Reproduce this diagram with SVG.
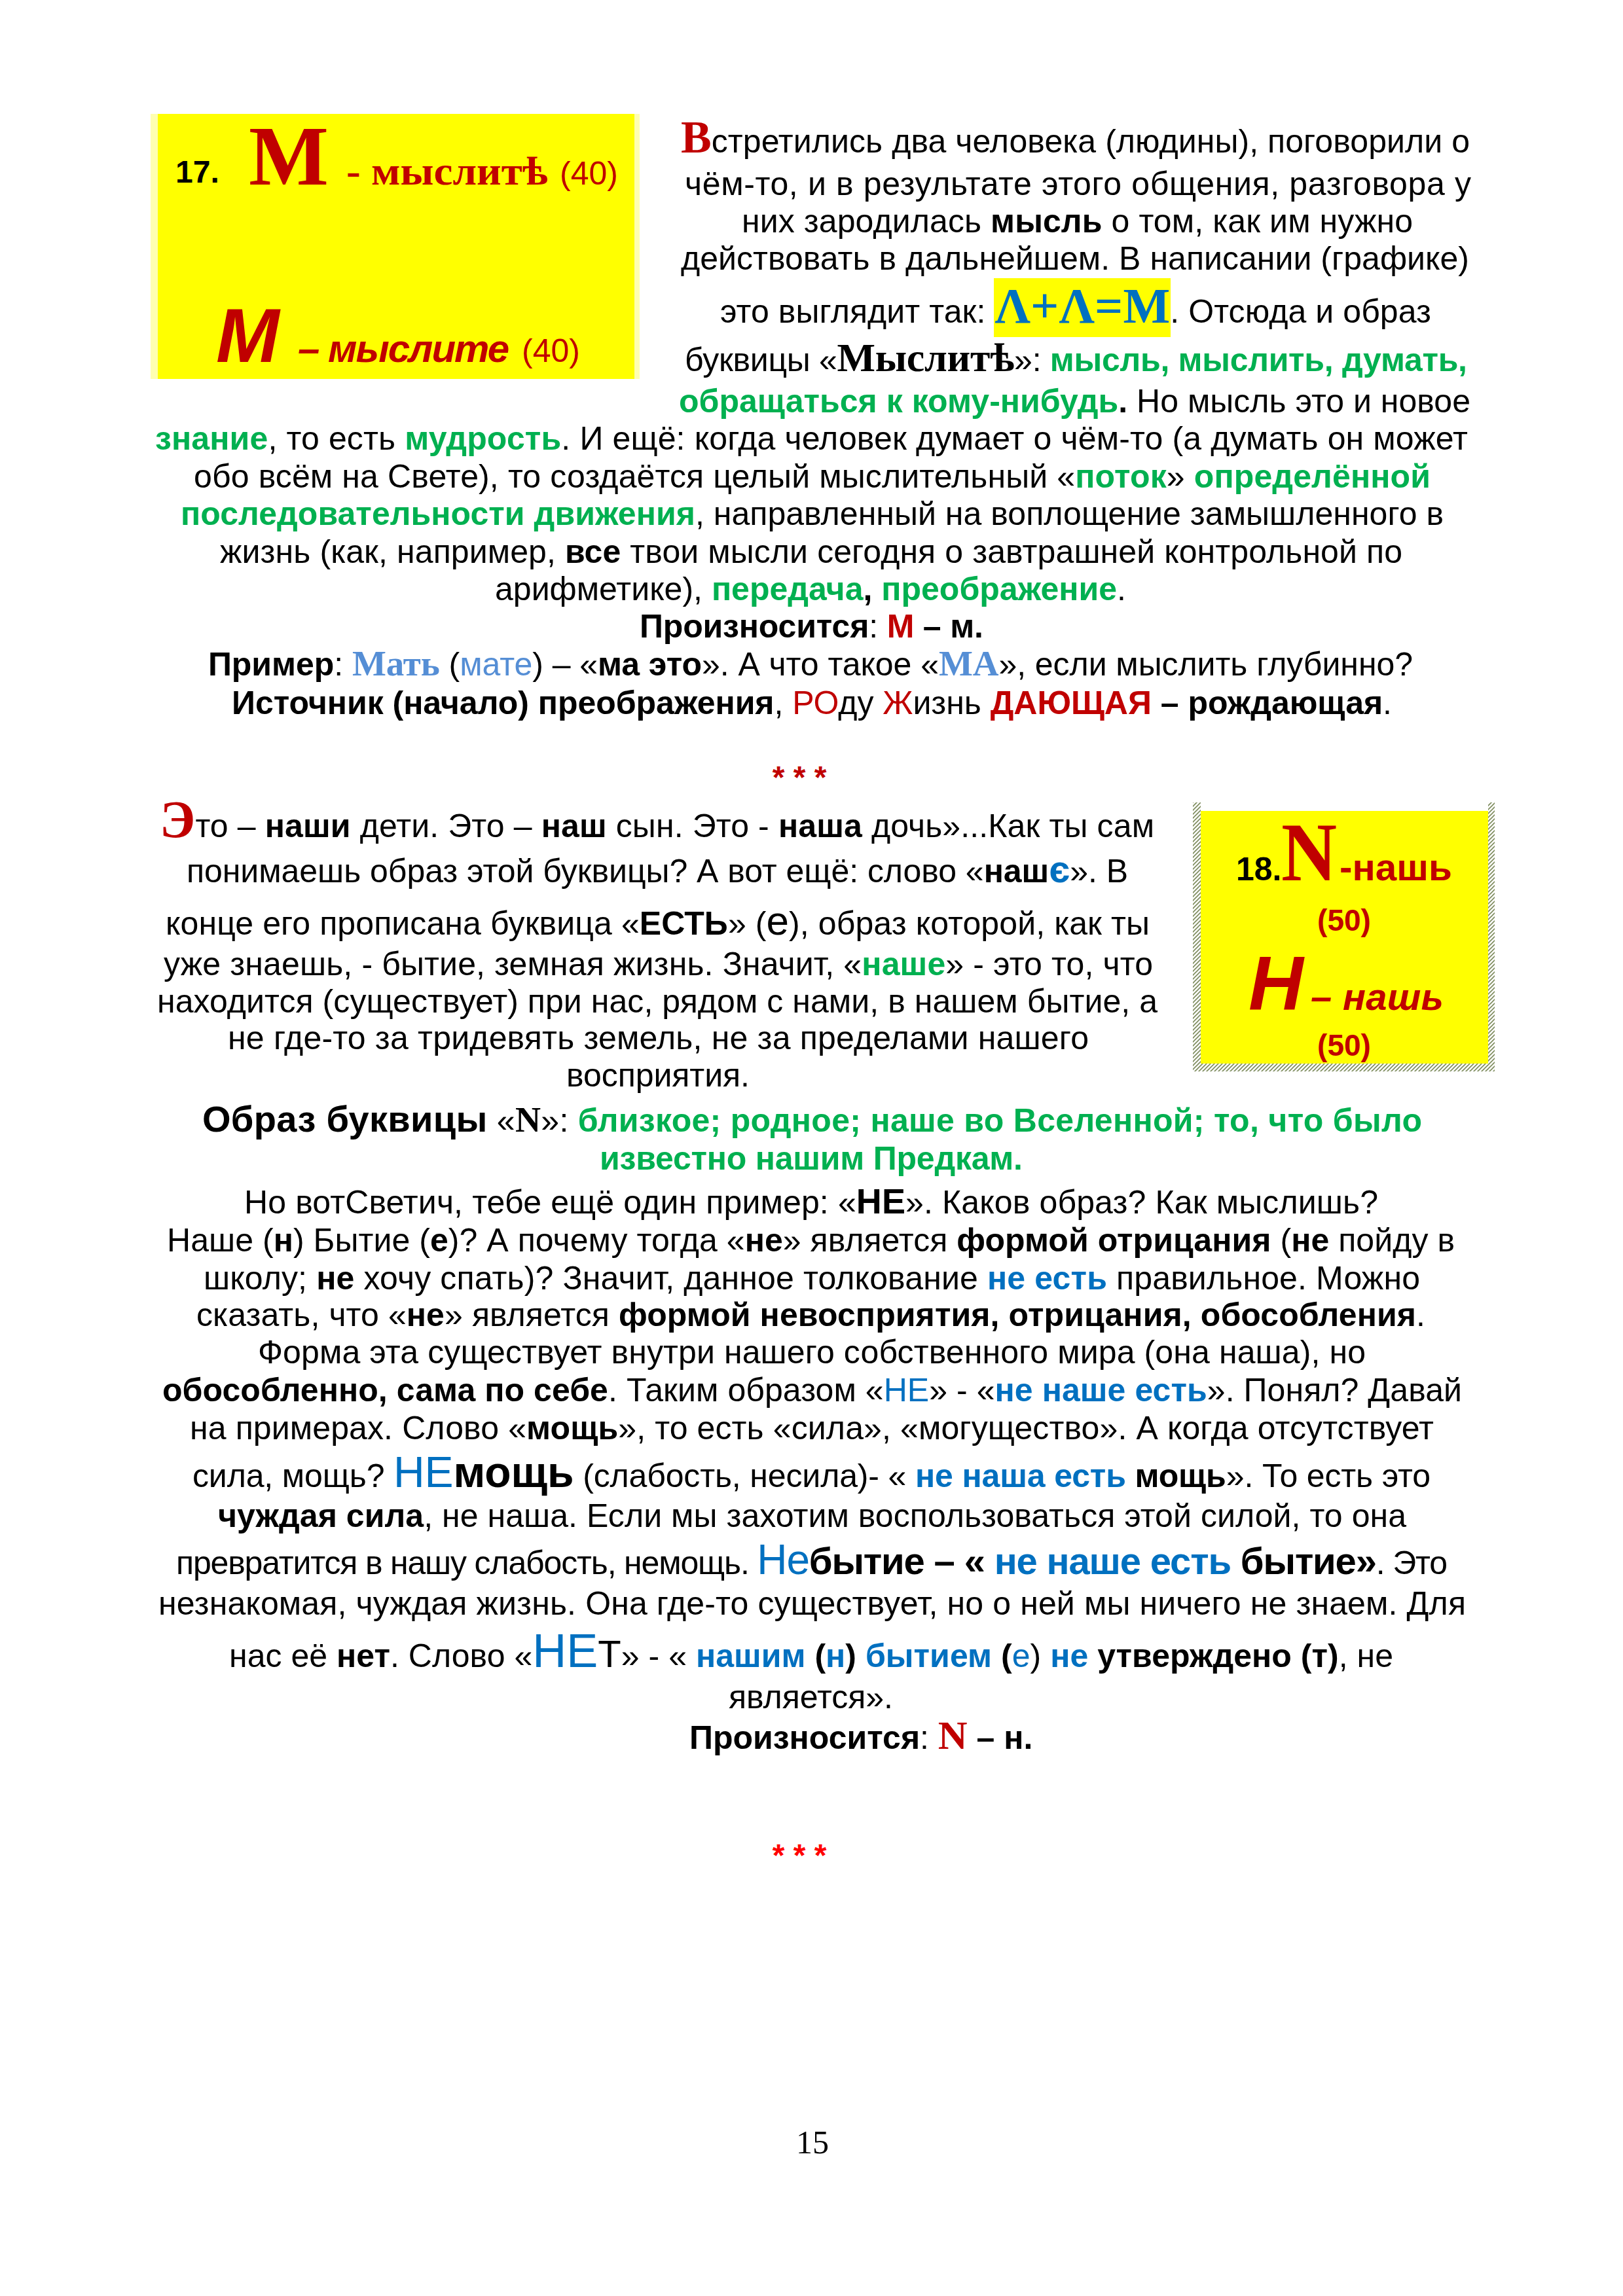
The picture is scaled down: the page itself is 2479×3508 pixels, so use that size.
<svg xmlns="http://www.w3.org/2000/svg" width="2479" height="3508" viewBox="0 0 2479 3508">
<defs>
<style>
.f{font-family:"Liberation Sans",Arial,sans-serif;font-size:50px;fill:#000}
.b{font-weight:bold}
.i{font-style:italic}
.sv{font-family:"Liberation Serif","Times New Roman",serif;font-weight:bold}
.red{fill:#C00000}
.brd{fill:#FF0000}
.grn{fill:#00B050;font-weight:bold}
.blu{fill:#0070C0}
.lbl{fill:#558ED5}
.pg{font-family:"Liberation Serif","Times New Roman",serif;font-size:50px;fill:#000}
</style>
<pattern id="hatch" patternUnits="userSpaceOnUse" width="6" height="6">
<rect width="6" height="6" fill="#FFFFFF"/>
<path d="M-1,7 L7,-1 M-1,1 L1,-1 M5,7 L7,5" stroke="#7D8B5C" stroke-width="1.6"/>
</pattern>
</defs>
<rect width="2479" height="3508" fill="#FFFFFF"/>

<g id="box17">
<rect x="230" y="174" width="747" height="405" fill="#FFFFB0"/>
<rect x="241" y="174" width="728" height="405" fill="#FFFF00"/>
<text class="f b" x="268" y="279" style="font-size:48px">17.</text>
<text class="sv red" x="380" y="282" font-size="130" textLength="122" lengthAdjust="spacingAndGlyphs">М</text>
<text class="sv red" x="529" y="282" font-size="62" textLength="308" lengthAdjust="spacingAndGlyphs">- мыслитѣ</text>
<text class="f red" x="855" y="282">(40)</text>
<text class="f b i red" x="330" y="553" style="font-size:116px">М</text>
<text class="f b i red" x="455" y="553" style="font-size:60px" textLength="323">– мыслите</text>
<text class="f red" x="797" y="553">(40)</text>
</g>

<g id="intro-right">
<text class="f" x="1040" y="233" textLength="1205"><tspan class="sv red" font-size="70">В</tspan>стретились два человека (людины), поговорили о</text>
<text class="f" x="1046" y="298" textLength="1201">чём-то, и в результате  этого общения, разговора у</text>
<text class="f" x="1133" y="355" textLength="1025">них зародилась <tspan class="b">мысль</tspan> о том, как им нужно</text>
<text class="f" x="1040" y="412" textLength="1204">действовать в дальнейшем. В написании (графике)</text>
<rect x="1518" y="425" width="270" height="90" fill="#FFFF00"/>
<text class="f" x="1100" y="493" textLength="1086">это выглядит так: <tspan class="sv blu" font-size="76">Λ+Λ=М</tspan>. Отсюда и образ</text>
<text class="f" x="1046" y="567" textLength="1195">буквицы «<tspan class="sv" font-size="62">Мыслитѣ</tspan>»: <tspan class="grn">мысль, мыслить, думать,</tspan></text>
<text class="f" x="1037" y="630" textLength="1209"><tspan class="grn">обращаться к кому-нибудь</tspan><tspan class="b">.</tspan> Но мысль это и новое</text>
</g>

<g id="intro-full">
<text class="f" x="237" y="687" textLength="2005"><tspan class="grn">знание</tspan>, то есть <tspan class="grn">мудрость</tspan>. И ещё: когда человек думает о чём-то (а думать он может</text>
<text class="f" x="296" y="745" textLength="1889">обо всём на Свете), то создаётся целый мыслительный «<tspan class="grn">поток</tspan>» <tspan class="grn">определённой</tspan></text>
<text class="f" x="276" y="802" textLength="1929"><tspan class="grn">последовательности движения</tspan>, направленный на воплощение замышленного в</text>
<text class="f" x="336" y="860" textLength="1806">жизнь (как, например, <tspan class="b">все</tspan> твои мысли сегодня о завтрашней контрольной по</text>
<text class="f" x="756" y="917" textLength="964">арифметике), <tspan class="grn">передача</tspan><tspan class="b">,</tspan> <tspan class="grn">преображение</tspan>.</text>
<text class="f" x="977" y="974" textLength="525"><tspan class="b">Произносится</tspan>: <tspan class="b red">М</tspan><tspan class="b"> – м.</tspan></text>
<text class="f" x="318" y="1032" textLength="1840"><tspan class="b">Пример</tspan>: <tspan class="sv lbl" font-size="55">Мать</tspan> (<tspan class="lbl">мате</tspan>) – «<tspan class="b">ма это</tspan>». А что такое «<tspan class="sv lbl" font-size="55">МА</tspan>», если мыслить глубинно?</text>
<text class="f" x="354" y="1091" textLength="1772"><tspan class="b">Источник (начало) преображения</tspan>, <tspan class="red">РО</tspan>ду <tspan class="red">Ж</tspan>изнь <tspan class="b red">ДАЮЩАЯ</tspan><tspan class="b"> – рождающая</tspan>.</text>
</g>

<g id="separator-1">
<text class="f b red" x="1221" y="1204" style="font-size:48px" text-anchor="middle">* * *</text>
</g>

<g id="box18">
<rect x="1822" y="1226" width="12" height="411" fill="url(#hatch)"/>
<rect x="2273" y="1226" width="10" height="411" fill="url(#hatch)"/>
<rect x="1822" y="1625" width="461" height="12" fill="url(#hatch)"/>
<rect x="1834" y="1239" width="439" height="386" fill="#FFFF00"/>
<text class="f b" x="1888" y="1345">18.</text>
<text class="sv red" x="1957" y="1345" font-size="128" textLength="85" lengthAdjust="spacingAndGlyphs">N</text>
<text class="f b red" x="2046" y="1345" style="font-size:58px" textLength="172" lengthAdjust="spacingAndGlyphs">-нашь</text>
<text class="f b red" x="2053" y="1422" style="font-size:46px" text-anchor="middle">(50)</text>
<text class="f b i red" x="1907" y="1543" style="font-size:116px">Н</text>
<text class="f b i red" x="2002" y="1543" style="font-size:58px" textLength="203">– нашь</text>
<text class="f b red" x="2053" y="1613" style="font-size:46px" text-anchor="middle">(50)</text>
</g>

<g id="nash-left">
<text class="f" x="244" y="1279" textLength="1519"><tspan class="sv red" font-size="80">Э</tspan>то – <tspan class="b">наши</tspan> дети. Это – <tspan class="b">наш</tspan> сын. Это - <tspan class="b">наша</tspan> дочь»...Как ты сам</text>
<text class="f" x="285" y="1348" textLength="1438">понимаешь образ этой буквицы? А вот ещё: слово «<tspan class="b">наш</tspan><tspan class="b blu" font-size="58">є</tspan>». В</text>
<text class="f" x="253" y="1428" textLength="1503">конце его прописана буквица «<tspan class="b">ЕСТЬ</tspan>» (<tspan font-size="62">е</tspan>), образ которой, как ты</text>
<text class="f" x="250" y="1490" textLength="1511">уже знаешь, - бытие, земная жизнь. Значит, «<tspan class="grn">наше</tspan>» - это то, что</text>
<text class="f" x="240" y="1547" textLength="1528">находится (существует) при нас, рядом с нами, в нашем бытие, а</text>
<text class="f" x="348" y="1603" textLength="1315">не где-то за тридевять земель, не за пределами нашего</text>
<text class="f" x="865" y="1660" textLength="280">восприятия.</text>
</g>

<g id="nash-full">
<text class="f" x="309" y="1729" textLength="1863"><tspan class="b" font-size="56">Образ буквицы</tspan> «<tspan class="sv" font-size="54">N</tspan>»: <tspan class="grn">близкое; родное; наше во Вселенной; то, что было</tspan></text>
<text class="f" x="916" y="1787" textLength="646"><tspan class="grn">известно нашим Предкам.</tspan></text>
<text class="f" x="373" y="1854" textLength="1732">Но вотСветич, тебе ещё один пример: «<tspan class="b" font-size="54">НЕ</tspan>». Каков образ? Как мыслишь?</text>
<text class="f" x="255" y="1912" textLength="1967">Наше (<tspan class="b">н</tspan>) Бытие (<tspan class="b">е</tspan>)? А почему тогда «<tspan class="b">не</tspan>» является <tspan class="b">формой отрицания</tspan> (<tspan class="b">не</tspan> пойду в</text>
<text class="f" x="311" y="1970" textLength="1858">школу; <tspan class="b">не</tspan> хочу спать)? Значит, данное толкование <tspan class="b blu">не есть</tspan> правильное. Можно</text>
<text class="f" x="300" y="2026" textLength="1877">сказать, что «<tspan class="b">не</tspan>» является <tspan class="b">формой невосприятия, отрицания, обособления</tspan>.</text>
<text class="f" x="394" y="2083" textLength="1692">Форма эта существует внутри нашего собственного мира (она наша), но</text>
<text class="f" x="248" y="2141" textLength="1985"><tspan class="b">обособленно, сама по себе</tspan>. Таким образом «<tspan class="blu">НЕ</tspan>» - «<tspan class="b blu">не наше есть</tspan>». Понял? Давай</text>
<text class="f" x="290" y="2199" textLength="1900">на примерах. Слово «<tspan class="b">мощь</tspan>», то есть «сила», «могущество». А когда отсутствует</text>
<text class="f" x="294" y="2272" textLength="1891">сила, мощь? <tspan class="blu" font-size="66">НЕ</tspan><tspan class="b" font-size="66">мощь</tspan> (слабость, несила)- « <tspan class="b blu">не наша есть</tspan> <tspan class="b">мощь</tspan>». То есть это</text>
<text class="f" x="333" y="2333" textLength="1815"><tspan class="b">чуждая сила</tspan>, не наша. Если мы захотим воспользоваться этой силой, то она</text>
<text class="f" x="269" y="2405" textLength="1942">превратится в нашу слабость, немощь. <tspan class="blu" font-size="64">Не</tspan><tspan class="b" font-size="58">бытие – « </tspan><tspan class="b blu" font-size="58">не наше есть</tspan><tspan class="b" font-size="58"> бытие»</tspan>. Это</text>
<text class="f" x="242" y="2467" textLength="1997">незнакомая, чуждая жизнь. Она где-то существует, но о ней мы ничего не знаем. Для</text>
<text class="f" x="350" y="2547" textLength="1778">нас её <tspan class="b">нет</tspan>. Слово «<tspan class="blu" font-size="72">НЕ</tspan><tspan font-size="58">Т</tspan>» - « <tspan class="b blu">нашим</tspan> <tspan class="b">(</tspan><tspan class="b blu">н</tspan><tspan class="b">)</tspan> <tspan class="b blu">бытием</tspan> <tspan class="b">(</tspan><tspan class="blu">е</tspan>) <tspan class="b blu">не</tspan> <tspan class="b">утверждено (т)</tspan>, не</text>
<text class="f" x="1113" y="2610" textLength="251">является».</text>
<text class="f" x="1053" y="2672"><tspan class="b">Произносится</tspan>: <tspan class="sv red" font-size="62">N</tspan><tspan class="b"> – н.</tspan></text>
</g>

<g id="separator-2">
<text class="f b brd" x="1221" y="2851" style="font-size:48px" text-anchor="middle">* * *</text>
</g>

<g id="page-number">
<text class="pg" x="1241" y="3290" text-anchor="middle">15</text>
</g>
</svg>
